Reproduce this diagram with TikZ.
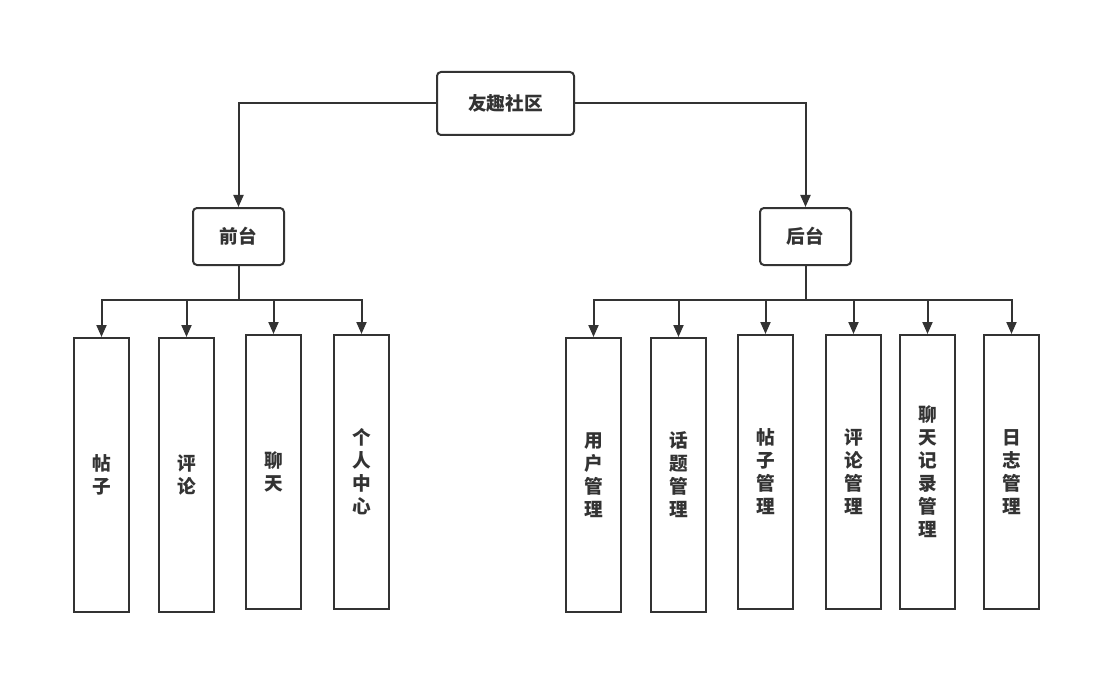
\documentclass[tikz,border=0pt]{standalone}
\usepackage{fontspec}
\newfontfamily\cjk{Noto Sans CJK SC}
\usetikzlibrary{arrows.meta, positioning}
\definecolor{ink}{HTML}{333333}

\begin{document}
\begin{tikzpicture}[
    x=0.75pt, y=-0.75pt,
    every node/.style={font=\cjk\bfseries\fontsize{14}{17.25}\selectfont, text=ink},
    root/.style={rectangle, draw=ink, line width=1.5pt, rounded corners=3pt, minimum width=102.75pt, minimum height=47.25pt, inner sep=0pt},
    part/.style={rectangle, draw=ink, line width=1.5pt, rounded corners=3pt, minimum width=68.25pt, minimum height=42.75pt, inner sep=0pt},
    module/.style={rectangle, draw=ink, line width=1.5pt, minimum width=41.25pt, minimum height=205.5pt, inner sep=0pt, align=center},
    link/.style={draw=ink, line width=1.5pt},
    arrow/.style={link, -{Triangle[length=9pt, width=7.5pt]}}
]
\useasboundingbox (0,0) rectangle (1101,674);

% Nodes
\node[root] (community) at (505.5,103.5) {友趣社区};
\node[part] (front) at (238.5,236.5) {前台};
\node[part] (back) at (805.5,236.5) {后台};

\node[module] (post) at (101.5,475) {帖\\子};
\node[module] (comment) at (186.5,475) {评\\论};
\node[module] (chat) at (273.5,472) {聊\\天};
\node[module] (profile) at (361.5,472) {个\\人\\中\\心};

\node[module] (usermgr) at (593.5,475) {用\\户\\管\\理};
\node[module] (topicmgr) at (678.5,475) {话\\题\\管\\理};
\node[module] (postmgr) at (765.5,472) {帖\\子\\管\\理};
\node[module] (commentmgr) at (853.5,472) {评\\论\\管\\理};
\node[module] (chatmgr) at (927.5,472) {聊\\天\\记\\录\\管\\理};
\node[module] (logmgr) at (1011.5,472) {日\\志\\管\\理};

\coordinate (frontjoin) at (238.5,300);
\coordinate (backjoin) at (805.5,300);

% Arrows
\draw[arrow] (community.west) -| (front.north);
\draw[arrow] (community.east) -| (back.north);

\draw[link] (front.south) -- (frontjoin);
\draw[arrow] (frontjoin) -| (post.north);
\draw[arrow] (frontjoin) -| (comment.north);
\draw[arrow] (frontjoin) -| (chat.north);
\draw[arrow] (frontjoin) -| (profile.north);

\draw[link] (back.south) -- (backjoin);
\draw[arrow] (backjoin) -| (usermgr.north);
\draw[arrow] (backjoin) -| (topicmgr.north);
\draw[arrow] (backjoin) -| (postmgr.north);
\draw[arrow] (backjoin) -| (commentmgr.north);
\draw[arrow] (backjoin) -| (chatmgr.north);
\draw[arrow] (backjoin) -| (logmgr.north);

\end{tikzpicture}
\end{document}
